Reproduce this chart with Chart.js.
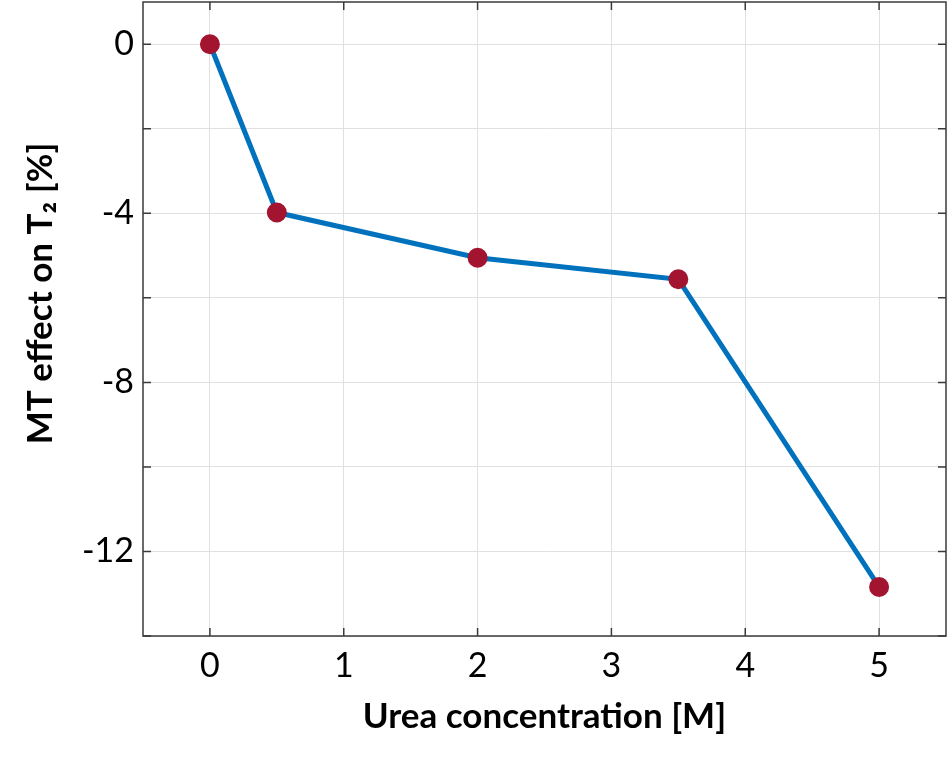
<!DOCTYPE html>
<html>
<head>
<meta charset="utf-8">
<script src="https://cdn.jsdelivr.net/npm/chart.js@4.4.1/dist/chart.umd.min.js"></script>
<style>
  body { margin: 0; background: #fff; }
  #wrap { width: 952px; height: 764px; }
</style>
</head>
<body>
<div id="wrap"><canvas id="myChart" width="952" height="764"></canvas></div>
<script>
// Dane
const xValues = [0, 0.5, 2, 3.5, 5];
const yValues = [0, -3.98, -5.05, -5.56, -12.84];
const xTicks = [0, 1, 2, 3, 4, 5];
const yTicks = [-14, -12, -10, -8, -6, -4, -2, 0];
const yLabelled = [0, -4, -8, -12];

const lineColor = "#0072BD";
const pointColor = "#A2142F";
const boxColor = "#3a3a3a";

// ramka i znaczniki skierowane do środka
const boxPlugin = {
  id: "box",
  afterDatasetsDraw(chart) {
    const { ctx, chartArea: a, scales } = chart;
    ctx.save();
    ctx.strokeStyle = boxColor;
    ctx.lineWidth = 1.5;
    ctx.strokeRect(a.left, a.top, a.right - a.left, a.bottom - a.top);
    ctx.beginPath();
    scales.x.ticks.forEach(t => {
      const px = scales.x.getPixelForValue(t.value);
      ctx.moveTo(px, a.bottom); ctx.lineTo(px, a.bottom - 8);
      ctx.moveTo(px, a.top); ctx.lineTo(px, a.top + 8);
    });
    scales.y.ticks.forEach(t => {
      const py = scales.y.getPixelForValue(t.value);
      ctx.moveTo(a.left, py); ctx.lineTo(a.left + 8, py);
      ctx.moveTo(a.right, py); ctx.lineTo(a.right - 8, py);
    });
    ctx.stroke();
    ctx.restore();
  }
};

new Chart("myChart", {
  type: "line",
  data: {
    datasets: [{
      data: xValues.map((x, i) => ({ x: x, y: yValues[i] })),
      borderColor: lineColor,
      borderWidth: 5,
      pointBackgroundColor: pointColor,
      pointBorderColor: pointColor,
      pointRadius: 7.5,
      tension: 0
    }]
  },
  options: {
    responsive: false,
    animation: false,
    layout: { autoPadding: false, padding: { top: 2, right: 6, left: 0, bottom: 0 } },
    plugins: { legend: { display: false }, tooltip: { enabled: false } },
    scales: {
      x: {
        type: "linear",
        min: -0.5,
        max: 5.5,
        afterBuildTicks: s => { s.ticks = xTicks.map(v => ({ value: v })); },
        afterFit: s => { s.height = 128; s.paddingLeft = 0; s.paddingRight = 0; },
        grid: { color: "#e0e0e0", drawTicks: false },
        border: { display: false },
        ticks: { color: "#000", padding: 10, font: { family: "Lato", size: 34 } },
        title: {
          display: true,
          text: "Urea concentration [M]",
          color: "#000",
          font: { family: "Lato", size: 35, weight: "bold" },
          padding: { top: 0, bottom: 26 }
        }
      },
      y: {
        type: "linear",
        min: -14,
        max: 1,
        afterBuildTicks: s => { s.ticks = yTicks.map(v => ({ value: v })); },
        afterFit: s => { s.width = 143; s.paddingTop = 0; s.paddingBottom = 0; },
        grid: { color: "#e0e0e0", drawTicks: false },
        border: { display: false },
        ticks: {
          color: "#000",
          padding: 9,
          font: { family: "Lato", size: 34 },
          callback: v => yLabelled.includes(v) ? String(v) : ""
        },
        title: {
          display: true,
          // spacje z przodu przesuwają tytuł nieco w górę
          text: "      MT effect on T\u2082 [%]",
          color: "#000",
          font: { family: "Lato", size: 35, weight: "bold" },
          padding: { top: 20, bottom: 0 }
        }
      }
    }
  },
  plugins: [boxPlugin]
});
</script>
</body>
</html>
